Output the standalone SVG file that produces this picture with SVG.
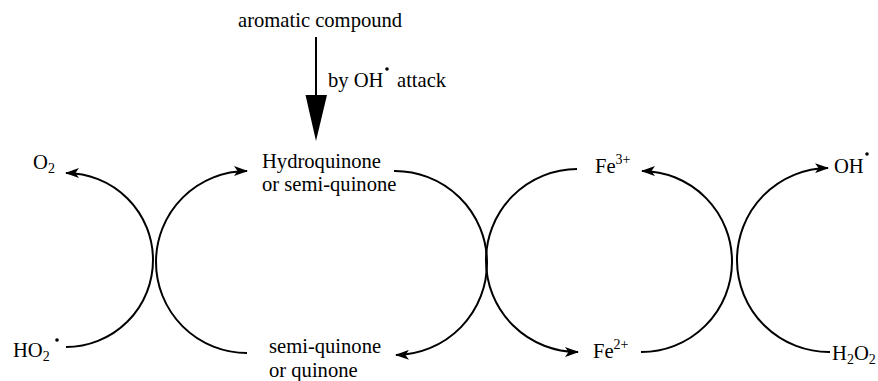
<svg xmlns="http://www.w3.org/2000/svg" width="878" height="381" viewBox="0 0 878 381">
<defs>
<marker id="ah" viewBox="0 0 14 10" refX="13" refY="5" markerWidth="14" markerHeight="10" markerUnits="userSpaceOnUse" orient="auto">
<path d="M0,0 L14,5 L0,10 L3.5,5 Z" fill="#000"/>
</marker>
<style>
.s{font-size:14px}
.arc{fill:none;stroke:#000;stroke-width:2}
</style>
</defs>
<rect width="878" height="381" fill="#fff"/>
<g id="connectors">
<path class="arc" d="M66,347 A1,1 0 0 0 66,173" marker-end="url(#ah)"/>
<path class="arc" d="M247,353 A1,1 0 0 1 247,171" marker-end="url(#ah)"/>
<path class="arc" d="M394,171 A1,1 0 0 1 396,355" marker-end="url(#ah)"/>
<path class="arc" d="M577,169 A1,1 0 0 0 578,352" marker-end="url(#ah)"/>
<path class="arc" d="M641,352 A1,1 0 0 0 642,171" marker-end="url(#ah)"/>
<path class="arc" d="M830,352 A1,1 0 0 1 828,168" marker-end="url(#ah)"/>
<g id="attack-arrow">
<line x1="316" y1="37" x2="316" y2="100" stroke="#000" stroke-width="2"/>
<polygon points="305.5,95 327,95 316,141" fill="#000"/>
</g>
</g>
<g font-family="Liberation Serif, Times New Roman, serif" font-size="20.6" fill="#000">
<g id="aromatic"><text x="238" y="27">aromatic compound</text></g>
<g id="attack-label"><text x="328" y="87">by OH</text><circle cx="387" cy="69" r="1.8"/><text x="397" y="87">attack</text></g>
<g id="hydroquinone"><text x="262" y="168">Hydroquinone</text><text x="262" y="191">or semi-quinone</text></g>
<g id="quinone"><text x="269" y="353">semi-quinone</text><text x="269" y="377">or quinone</text></g>
<g id="o2"><text x="33" y="169">O<tspan class="s" dy="4">2</tspan></text></g>
<g id="ho2"><text x="13" y="357">HO<tspan class="s" dy="4">2</tspan></text><circle cx="57" cy="340" r="1.8"/></g>
<g id="fe3"><text x="595" y="173">Fe<tspan class="s" dy="-9">3+</tspan></text></g>
<g id="fe2"><text x="593" y="358">Fe<tspan class="s" dy="-9">2+</tspan></text></g>
<g id="oh"><text x="834" y="173">OH</text><circle cx="867" cy="154" r="1.8"/></g>
<g id="h2o2"><text x="832" y="360">H<tspan class="s" dy="4">2</tspan><tspan dy="-4">O</tspan><tspan class="s" dy="4">2</tspan></text></g>
</g>
</svg>
